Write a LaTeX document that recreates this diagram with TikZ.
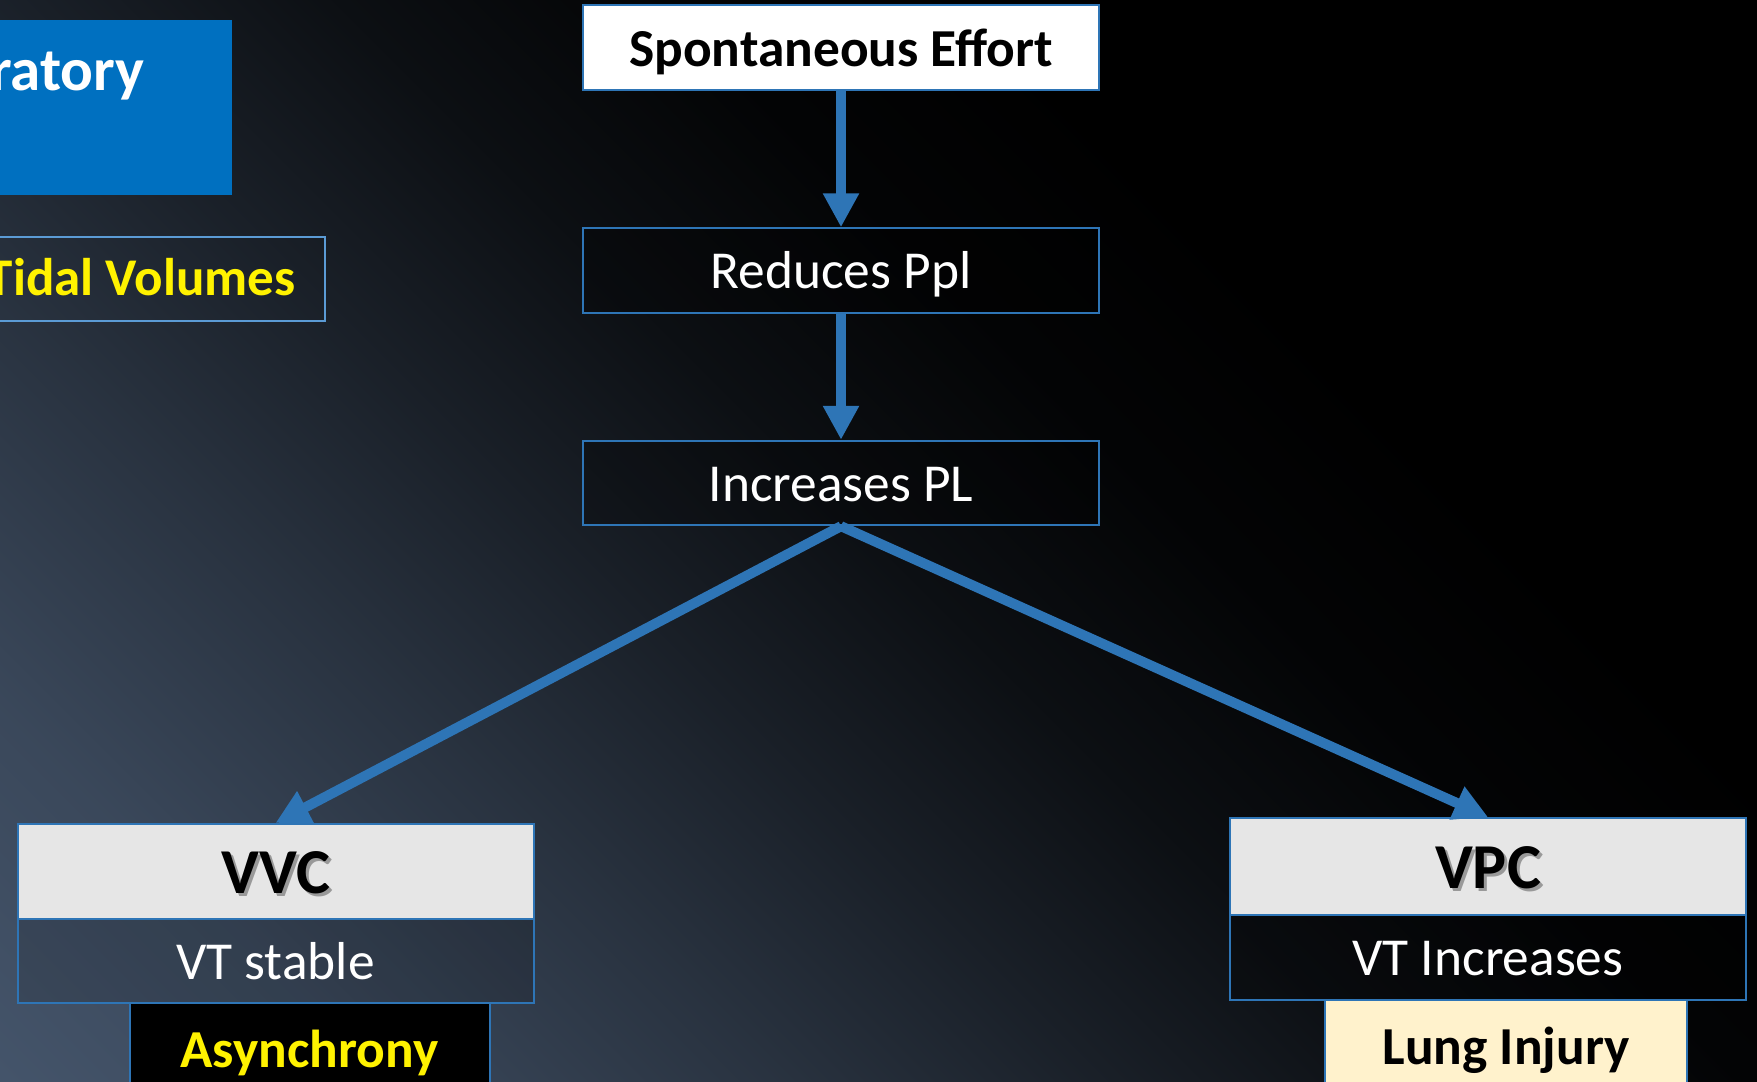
\documentclass[tikz,border=0pt]{standalone}
\usepackage{fontspec}
\setmainfont{Carlito}
\usetikzlibrary{arrows.meta,shapes}

\definecolor{linkblue}{HTML}{2E75B6}
\definecolor{titleblue}{HTML}{0070C0}
\definecolor{paleblue}{HTML}{5B9BD5}
\definecolor{headgray}{HTML}{E6E6E6}
\definecolor{injurycream}{HTML}{FFF2CC}
\definecolor{slate}{HTML}{44546A}

\pgfdeclarehorizontalshading{slide}{100bp}{color(0bp)=(slate); color(14.6bp)=(slate); color(24bp)=(slate!85!black); color(34bp)=(slate!60!black); color(42bp)=(slate!38!black); color(50bp)=(slate!18!black); color(58bp)=(slate!5!black); color(66bp)=(black); color(100bp)=(black)}

\newcommand{\shadowtext}[1]{\makebox[0pt][l]{\hspace{1.5bp}\raisebox{-1.5bp}{\color{black!40}#1}}#1}

\tikzset{
  box/.style={rectangle,draw=linkblue,line width=1bp,minimum width=258bp,minimum height=42bp,inner sep=0pt,text=white,text height=18.4bp,text depth=0pt,font=\fontsize{26.7bp}{31bp}\selectfont},
  darkbox/.style={fill=black,fill opacity=0.25,text opacity=1},
  headbox/.style={fill=headgray,text=black,minimum height=47.5bp,text height=22bp,font=\bfseries\fontsize{32bp}{38bp}\selectfont},
  boldtext/.style={font=\bfseries\fontsize{26.7bp}{31bp}\selectfont},
  flow/.style={draw=linkblue,line width=5bp,-{Triangle[width=17bp,length=17bp]}}
}

\begin{document}
\begin{tikzpicture}
\useasboundingbox (0bp,0bp) rectangle (878.5bp,-541bp);
\shade[shading=slide,shading angle=45] (0bp,0bp) rectangle (878.5bp,-541bp);

% left side, cut by the page edge
\node (title) at (116bp,-10bp)[anchor=north east,fill=titleblue,minimum width=220bp,minimum height=87.5bp,inner sep=0pt] {};
\node (titletext) at (72.5bp,-45bp)[anchor=base east,inner sep=0pt,text=white,font=\bfseries\fontsize{30.5bp}{36bp}\selectfont] {ratory};
\node (tidal) at (163bp,-118bp)[anchor=north east,draw=paleblue,line width=1bp,minimum width=220bp,minimum height=42bp,inner sep=0pt] {};
\node (tidaltext) at (148bp,-147.5bp)[anchor=base east,inner sep=0pt,text=yellow,font=\bfseries\fontsize{26.5bp}{31bp}\selectfont] {Tidal Volumes};

% main chain
\node (spont) at (420.5bp,-23.8bp)[box,fill=white,text=black,boldtext,minimum height=42.2bp] {Spontaneous Effort};
\node (ppl) at (420.5bp,-135.25bp)[box,darkbox,minimum height=42.2bp] {Reduces Ppl};
\node (pl) at (420.5bp,-241.5bp)[box,darkbox,minimum height=42.2bp] {Increases PL};

% volume control
\node (vvc) at (137.75bp,-435.75bp)[box,headbox] {\shadowtext{VVC}};
\node (vvcvt) at (137.75bp,-480.5bp)[box,fill=black,fill opacity=0.12,text opacity=1] {VT stable};
\node (async) at (154.75bp,-524.5bp)[box,fill=black,text=yellow,boldtext,minimum width=180bp,minimum height=46bp] {Asynchrony};

% pressure control
\node (vpc) at (744bp,-433.25bp)[box,headbox,minimum height=48.5bp] {\shadowtext{VPC}};
\node (vpcvt) at (744bp,-478.75bp)[box,darkbox,minimum height=42.5bp] {VT Increases};
\node (injury) at (753bp,-523.25bp)[box,fill=injurycream,text=black,boldtext,minimum width=181bp,minimum height=46.5bp] {Lung Injury};

\draw [flow] (spont) -- (ppl);
\draw [flow] (ppl) -- (pl);
\draw [flow] (pl.south) -- (vvc.north);
\draw [flow] (pl.south) -- (vpc.north);
\end{tikzpicture}
\end{document}
